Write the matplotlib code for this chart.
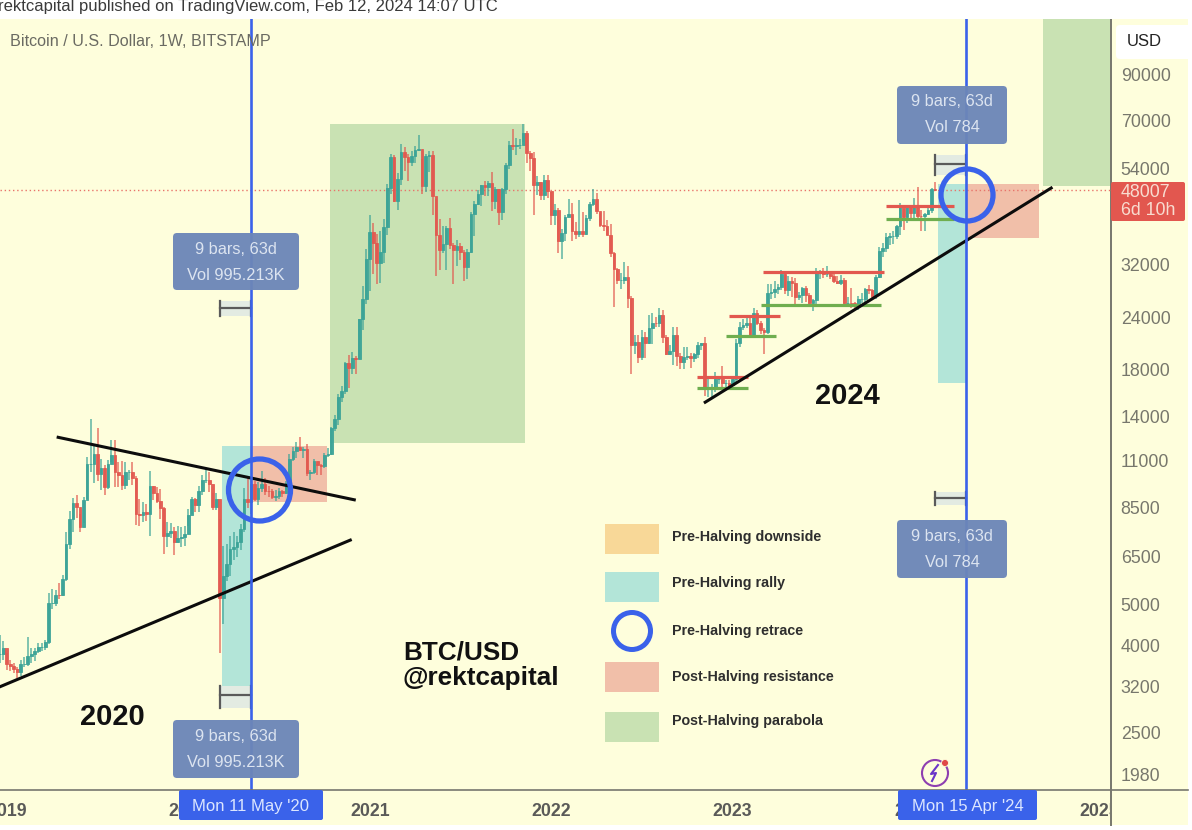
import pandas as pd
import matplotlib
matplotlib.use('Agg')
import matplotlib.pyplot as plt
from matplotlib.patches import Rectangle, Circle, FancyBboxPatch
from matplotlib.transforms import Bbox

plt.rcParams['font.family'] = ['Liberation Sans', 'DejaVu Sans']

# weekly BTC candles, first bar is the week of 24 Dec 2018
closes = [
    3820, 3960,
    # 2019
    3620, 3590, 3530, 3460, 3620, 3620, 3790, 3820, 3900, 3980, 3980, 4090, 5050,
    5060, 5290, 5280, 5750, 6970, 8000, 8730, 8550, 7650, 8860, 10800, 10800,
    11400, 10200, 10550, 9500, 10800, 11300, 10300, 10150, 9600, 10300, 10300, 10000,
    8200, 8150, 8300, 8220, 9550, 9200, 8800, 8500, 7300, 7400, 7500, 7060, 7200, 7250, 7350,
    # 2020
    8150, 8900, 8600, 9300, 9900, 9900, 9650, 8530, 8900, 5200, 5850, 6250, 6780,
    6850, 7040, 7550, 8900, 8750, 9680, 8900, 9450, 9650, 9320, 9300, 9000, 9070,
    9300, 9200, 9700, 11050, 11600, 11850, 11650, 11700, 10250, 10320, 10930, 10750, 10670,
    11300, 11370, 13100, 13800, 15500, 16050, 18650, 18200, 19170, 19150, 23800, 26500, 33000,
    # 2021
    38200, 36000, 32300, 34300, 39300, 48600, 57500, 45200, 50900, 59000, 57500, 55800, 57900,
    59800, 60000, 49100, 57800, 58200, 46500, 37500, 34600, 35800, 39000, 35600, 34600, 35300,
    34200, 31500, 34200, 42200, 44600, 47000, 49300, 48800, 49900, 45200, 48200, 42700, 48200,
    54900, 61500, 60900, 61300, 61400, 65500, 58700, 57300, 49300, 50100, 46700, 50800, 47700,
    # 2022
    41800, 43100, 36300, 37900, 41400, 42100, 38400, 37700, 38400, 37800, 41300, 44500, 45800,
    42800, 39700, 39500, 37600, 34000, 31300, 29400, 29400, 29900, 26600, 20600, 21000, 19300,
    21600, 20800, 22600, 23300, 23200, 24300, 21500, 19600, 20000, 21800, 19400, 18800, 19300,
    19400, 19200, 19600, 20600, 20900, 16300, 16300, 16400, 17100, 17100, 16800, 16800, 16600,
    # 2023
    17100, 20900, 22700, 23000, 23300, 21800, 24600, 23200, 22400, 22100, 27400, 27500, 28000,
    28300, 30300, 27800, 29200, 28900, 26800, 27100, 28100, 27100, 25900, 26300, 30500, 30500,
    30300, 30300, 30000, 29200, 29000, 29400, 26000, 26000, 25900, 25800, 26500, 26500, 28000,
    27900, 26900, 29900, 34500, 35000, 37100, 37400, 37400, 39500, 43800, 41400, 43700, 42300,
    # 2024
    43900, 41700, 41600, 42100, 43000, 48300, 48007,
]
highs = [
    4250, 4100,
    3850, 3700, 3650, 3560, 3700, 3760, 4190, 3950, 3950, 4060, 4060, 4140, 5350,
    5450, 5420, 5650, 5880, 7450, 8350, 8950, 9090, 8200, 9000, 11200, 13800,
    12000, 13100, 11100, 10700, 11000, 12300, 12300, 10900, 10950, 10900, 10450, 10900,
    10100, 8900, 8750, 8680, 10370, 9570, 9500, 9400, 8550, 7850, 7820, 7630, 7700, 7650, 7700,
    8450, 9000, 8980, 9550, 10150, 10500, 10300, 9200, 9200, 8000, 6900, 6980, 7300,
    7450, 7300, 7780, 9480, 10050, 9950, 9850, 9750, 10380, 9990, 9580, 9400, 9370,
    9450, 9350, 9830, 11400, 11800, 12150, 12480, 11800, 12050, 10420, 11100, 10800, 10800,
    11450, 11750, 13200, 14100, 15800, 16480, 18800, 19500, 19850, 19450, 23800, 28400, 34800,
    41950, 40100, 37850, 38500, 40900, 49700, 58400, 58000, 52600, 61700, 60700, 58400, 59500,
    61200, 64900, 56800, 58400, 59500, 59500, 45800, 40900, 39400, 39400, 41300, 36000, 36600,
    35900, 34700, 34800, 42600, 45300, 48100, 49400, 50500, 50400, 52900, 48800, 48200, 48500,
    55700, 62900, 67000, 63700, 63500, 69000, 66300, 59500, 59100, 51900, 50200, 52000, 52100,
    47600, 44400, 43500, 38900, 41800, 45800, 44700, 40300, 45400, 42500, 41800, 45100, 48200,
    47200, 42400, 42900, 40800, 40000, 34200, 31400, 30600, 32400, 31700, 27000, 21800, 21800,
    22400, 22200, 24300, 24600, 24000, 25200, 25000, 21800, 20600, 22800, 22700, 19700, 20400,
    20400, 19800, 19700, 21000, 20800, 21500, 17200, 16700, 17800, 17400, 18400, 17000, 17000,
    17200, 21300, 23400, 23800, 24200, 23900, 25250, 25000, 23500, 22600, 28800, 28800, 29200,
    28800, 31000, 30500, 30000, 29900, 29800, 27600, 28300, 28400, 27400, 26500, 31400, 31000,
    31400, 31800, 30400, 30300, 30000, 30200, 29700, 26800, 28100, 26100, 26900, 27400, 28100,
    28600, 28000, 30200, 35200, 35900, 38000, 37900, 38400, 39600, 44700, 43400, 44300, 43700,
    45900, 48900, 43000, 42300, 43900, 48600, 50300,
]
lows = [
    3650, 3700,
    3500, 3480, 3450, 3360, 3400, 3570, 3590, 3650, 3680, 3850, 3880, 3920, 4050,
    4900, 4980, 5170, 5250, 5700, 6780, 7450, 8050, 7450, 7800, 8900, 10300,
    9700, 9850, 9350, 9100, 9400, 10900, 9500, 9500, 9350, 9400, 9900, 9600,
    7750, 7700, 7850, 7900, 7300, 8850, 8700, 8000, 6600, 6850, 7200, 6550, 7000, 6850, 6900,
    7700, 8200, 8300, 8300, 9100, 9700, 9280, 8400, 8400, 3850, 4500, 5700, 5850,
    6400, 6500, 6750, 7450, 8500, 8200, 8800, 8640, 9250, 9100, 9000, 8900, 8830,
    8900, 9000, 9150, 9650, 10950, 11150, 11550, 11150, 10100, 9900, 10200, 10150, 10150,
    10530, 11200, 11300, 12900, 13300, 15100, 15800, 16300, 17600, 17600, 19100, 22400, 25800,
    27700, 30400, 28800, 29000, 32300, 37500, 47000, 44900, 43000, 49300, 53200, 50500, 54600,
    55500, 59300, 47000, 47500, 52900, 42000, 30000, 31100, 34000, 31000, 34900, 28800, 31700,
    32700, 29300, 29600, 34100, 37400, 44200, 43900, 46400, 46500, 42800, 43400, 39600, 40800,
    47000, 53900, 59800, 58000, 60000, 62300, 55500, 53300, 42000, 46800, 45500, 45600, 45900,
    39700, 39700, 34000, 33000, 36300, 41700, 36300, 36800, 37200, 37200, 37600, 40500, 44100,
    42100, 39200, 38500, 37500, 33300, 25400, 28700, 28000, 28800, 25300, 17600, 19600, 18700,
    19000, 19200, 20700, 20700, 22700, 22700, 20800, 19500, 19500, 18500, 18400, 18100, 18100,
    19000, 18200, 18800, 19200, 20100, 15600, 15500, 15500, 16000, 16700, 16400, 16300, 16300,
    16500, 16900, 20400, 22400, 22600, 21400, 21400, 23000, 21900, 19600, 21900, 26500, 26600,
    27200, 27800, 27200, 27000, 26800, 25800, 26400, 26000, 26100, 25400, 24800, 25700, 29500,
    29700, 29900, 29500, 28900, 28800, 28600, 25400, 25400, 25300, 24900, 25000, 26000, 26000,
    27200, 26500, 26500, 29700, 33400, 34300, 35500, 35700, 36700, 37600, 38700, 40200, 40500,
    40700, 40600, 38500, 38500, 41900, 42300, 47800,
]

week_starts = pd.date_range('2018-12-24', periods=len(closes), freq='7D')

price_ticks = [90000, 70000, 54000, 42000, 32000, 24000, 18000, 14000, 11000, 8500, 6500, 5000, 4000, 3200, 2500, 1980]
year_ticks = ['2019-01-07', '2020-01-06', '2021-01-04', '2022-01-03', '2023-01-02', '2024-01-01', '2025-01-06']
year_labels = ['2019', '2020', '2021', '2022', '2023', '2024', '2025']

halving_dates = [pd.Timestamp('2020-05-11'), pd.Timestamp('2024-04-15')]
last_price = 48007

BG = '#FEFEDC'
UP = '#3BA397'
DOWN = '#E2584F'
TEAL = '#B3E5D8'
SALMON = '#F1BFA9'
GREEN = '#C9E2B3'
ORANGE = '#F8D898'
BLUE = '#3A62EA'
BOX = '#6C86B8'
BOXTXT = '#DCE4F0'

W, H = 1192, 830
LEFT, RIGHT, TOP, BOTTOM = 0, 1111, 19, 790

fig = plt.figure(figsize=(W / 100, H / 100), dpi=100, facecolor='white')
fig.add_artist(Rectangle((0, 5 / H), 1188 / W, (H - 5 - TOP) / H, transform=fig.transFigure,
                         facecolor=BG, edgecolor='none', zorder=-5))

ax = fig.add_axes([LEFT / W, 1 - BOTTOM / H, (RIGHT - LEFT) / W, (BOTTOM - TOP) / H])
ax.patch.set_alpha(0)
ax.set_yscale('log')
ax.set_xlim(pd.Timestamp('2018-12-24 08:00'), pd.Timestamp('2025-01-30'))
ax.set_ylim(1823, 122000)


def shade(start, end, low, high, color):
    x0, x1 = pd.Timestamp(start), pd.Timestamp(end)
    ax.fill_between([x0, x1], low, high, color=color, lw=0, zorder=1)


# cycle zones
shade('2020-03-14', '2020-05-11', 3216, 11870, TEAL)
shade('2020-05-11', '2020-10-10', 8780, 11870, SALMON)
shade('2020-10-17', '2021-11-12', 12060, 68870, GREEN)
shade('2024-02-17', '2024-04-15', 16740, 49620, TEAL)
shade('2024-04-15', '2024-09-08', 36960, 49620, SALMON)
shade('2024-09-15', '2025-01-30', 49060, 122000, GREEN)

# measure tool brackets
brackets = [('2020-03-09', '2020-05-11', 24200, 25170, 26200),
            ('2020-03-09', '2020-05-11', 2853, 3060, 3216),
            ('2024-02-12', '2024-04-15', 52100, 55400, 58150),
            ('2024-02-12', '2024-04-15', 8600, 8980, 9280)]
for start, end, low, mid, high in brackets:
    shade(start, end, low, high, '#E3EBE2')
    ax.plot([pd.Timestamp(start), pd.Timestamp(end)], [mid, mid], color='#5A5A5A', lw=1.6, zorder=3)
    ax.plot([pd.Timestamp(start)] * 2, [low, high], color='#5A5A5A', lw=1.6, zorder=3)
    ax.plot([pd.Timestamp(end)] * 2, [low, high], color='#5A5A5A', lw=1.6, zorder=3)

# candles
opens = [closes[0]] + closes[:-1]
colors = [UP if c >= o else DOWN for o, c in zip(opens, closes)]
ax.vlines(week_starts, lows, highs, colors=colors, lw=1.2, alpha=0.75, zorder=4)
ax.bar(week_starts, [abs(c - o) for o, c in zip(opens, closes)],
       bottom=[min(o, c) for o, c in zip(opens, closes)],
       width=5.4, color=colors, edgecolor=colors, lw=0.6, alpha=0.95, zorder=5)

# last price line
ax.axhline(last_price, color='#E8736A', lw=1, ls=(0, (1, 2)), zorder=3)

# support and resistance levels in 2023
levels = [('2022-10-23', '2023-02-02', 17300, DOWN), ('2022-10-23', '2023-02-02', 16300, '#6FAE4F'),
          ('2022-12-25', '2023-04-08', 24130, DOWN), ('2022-12-19', '2023-03-30', 21640, '#6FAE4F'),
          ('2023-03-04', '2023-11-02', 30690, DOWN), ('2023-02-28', '2023-10-27', 25620, '#6FAE4F'),
          ('2023-11-06', '2024-03-22', 44020, DOWN), ('2023-11-06', '2024-03-22', 41010, '#6FAE4F')]
for start, end, price, color in levels:
    ax.plot([pd.Timestamp(start), pd.Timestamp(end)], [price, price], color=color, lw=2.3, zorder=6,
            solid_capstyle='butt')

# trend lines
trends = [('2019-04-20', 12470, '2020-12-04', 8870),
          ('2018-12-24', 3200, '2020-11-26', 7120),
          ('2022-11-08', 15100, '2024-10-02', 48550)]
for d0, p0, d1, p1 in trends:
    ax.plot([pd.Timestamp(d0), pd.Timestamp(d1)], [p0, p1], color='#0C0C0C', lw=2.2, zorder=7)

for d in halving_dates:
    ax.axvline(d, color=BLUE, lw=1.9, zorder=8)

# axes furniture
for side in ['top', 'left']:
    ax.spines[side].set_visible(False)
ax.spines['right'].set_color('#77776E')
ax.spines['right'].set_linewidth(1.4)
ax.spines['bottom'].set_visible(False)

ax.yaxis.tick_right()
ax.set_yticks(price_ticks)
ax.set_yticklabels([str(p) for p in price_ticks], fontsize=12.8, color='#77776C')
ax.yaxis.set_minor_locator(matplotlib.ticker.NullLocator())
ax.tick_params(axis='y', length=0, pad=7)

ax.set_xticks([pd.Timestamp(d) for d in year_ticks])
ax.set_xticklabels(year_labels, fontsize=12.8, fontweight='bold', color='#5A5A58')
ax.tick_params(axis='x', length=0, pad=9)
for lab in ax.get_xticklabels():
    lab.set_clip_on(True)
    lab.set_clip_box(Bbox([[0, 0], [RIGHT - 1, H]]))

# everything from here is placed in picture pixels
ov = fig.add_axes([0, 0, 1, 1], zorder=5)
ov.set_xlim(0, W)
ov.set_ylim(H, 0)
ov.axis('off')
ov.patch.set_alpha(0)

ov.plot([0, 1188], [BOTTOM, BOTTOM], color='#77776E', lw=1.2, zorder=1)
ov.plot([RIGHT, RIGHT], [BOTTOM, H - 5], color='#77776E', lw=1.4, zorder=1)


def info_box(x0, y0, x1, y1, top_text, bottom_text):
    ov.add_patch(FancyBboxPatch((x0 + 3, y0 + 3), x1 - x0 - 6, y1 - y0 - 6,
                                boxstyle='round,pad=3,rounding_size=4',
                                facecolor=BOX, edgecolor='none', alpha=0.96, zorder=3))
    ov.text((x0 + x1) / 2, y0 + 16, top_text, ha='center', va='center', color=BOXTXT, fontsize=11.8, zorder=4)
    ov.text((x0 + x1) / 2, y0 + 42, bottom_text, ha='center', va='center', color=BOXTXT, fontsize=11.8, zorder=4)


info_box(173, 233, 299, 290, '9 bars, 63d', 'Vol 995.213K')
info_box(173, 720, 299, 778, '9 bars, 63d', 'Vol 995.213K')
info_box(897, 86, 1007, 144, '9 bars, 63d', 'Vol 784')
info_box(897, 520, 1007, 578, '9 bars, 63d', 'Vol 784')

# halving date flags
for x0, x1, label in [(179, 323, "Mon 11 May '20"), (898, 1037, "Mon 15 Apr '24")]:
    ov.add_patch(FancyBboxPatch((x0 + 1, BOTTOM + 1), x1 - x0 - 2, 28, boxstyle='round,pad=1,rounding_size=2',
                                facecolor=BLUE, edgecolor='none', zorder=3))
    ov.text((x0 + x1) / 2, BOTTOM + 16, label, ha='center', va='center', color='#DCE6FF', fontsize=12, zorder=4)

# retrace circles
ov.add_patch(Circle((259.5, 490), 31, fill=False, edgecolor=BLUE, lw=3.8, zorder=3))
ov.add_patch(Circle((967, 195), 26, fill=False, edgecolor=BLUE, lw=3.8, zorder=3))

# header and titles
ov.add_patch(Rectangle((0, 0), W, TOP, facecolor='white', edgecolor='none', zorder=2))
ov.text(-2, 7, 'rektcapital published on TradingView.com, Feb 12, 2024 14:07 UTC', va='center',
        fontsize=12, color='#3A3A3A', zorder=3)
ov.text(10, 42, 'Bitcoin / U.S. Dollar, 1W, BITSTAMP', va='center', fontsize=11.6, color='#6A6A62', zorder=3)
ov.text(403, 652, 'BTC/USD', va='center', fontsize=18.8, fontweight='bold', color='#111111', zorder=3)
ov.text(403, 678, '@rektcapital', va='center', fontsize=18.8, fontweight='bold', color='#111111', zorder=3)
ov.text(80, 717, '2020', va='center', fontsize=21, fontweight='bold', color='#111111', zorder=3)
ov.text(815, 396, '2024', va='center', fontsize=21, fontweight='bold', color='#111111', zorder=3)

# price scale widgets
ov.add_patch(FancyBboxPatch((1118, 27), 76, 30, boxstyle='round,pad=2,rounding_size=4',
                            facecolor='white', edgecolor='none', zorder=3))
ov.text(1127, 42, 'USD', va='center', fontsize=12, color='#222222', zorder=4)
ov.add_patch(FancyBboxPatch((1112, 183), 72, 37, boxstyle='round,pad=1,rounding_size=2',
                            facecolor='#E2574F', edgecolor='none', zorder=3))
ov.text(1121, 192, str(last_price), va='center', fontsize=12.8, color='#F8DCD0', zorder=4)
ov.text(1121, 210, '6d 10h', va='center', fontsize=12.8, color='#F8DCD0', zorder=4)

# hand drawn legend
legend_rows = [(524, ORANGE, 'Pre-Halving downside', 537),
               (572, TEAL, 'Pre-Halving rally', 583),
               (None, None, 'Pre-Halving retrace', 631),
               (662, SALMON, 'Post-Halving resistance', 677),
               (712, GREEN, 'Post-Halving parabola', 721)]
for top, color, label, text_y in legend_rows:
    if top is None:
        ov.add_patch(Circle((632, 631), 18.5, fill=False, edgecolor=BLUE, lw=3.6, zorder=3))
    else:
        ov.add_patch(Rectangle((605, top), 54, 30, facecolor=color, edgecolor='none', zorder=3))
    ov.text(672, text_y, label, va='center', fontsize=10.3, fontweight='bold', color='#2E2E2E', zorder=3)

# news badge
ov.add_patch(Circle((935, 773), 13, fill=False, edgecolor='#8E3FB0', lw=1.5, zorder=3))
ov.plot([938, 931, 936, 932], [765, 774, 773, 781], color='#6A35C8', lw=1.5, zorder=4)
ov.add_patch(Circle((945, 763), 3.5, facecolor='#E04848', edgecolor=BG, lw=0.6, zorder=5))

fig.savefig('out.png', dpi=100)
